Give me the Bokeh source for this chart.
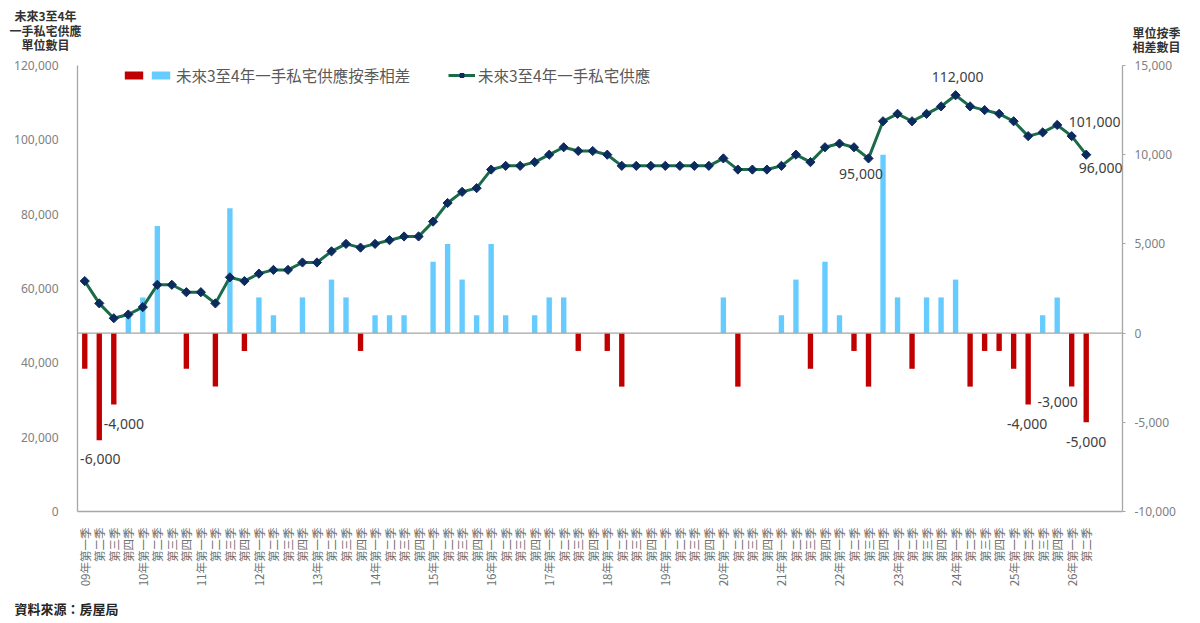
import math
from bokeh.plotting import figure
from bokeh.layouts import column
from bokeh.models import (Range1d, LinearAxis, FixedTicker, NumeralTickFormatter,
                          Span, Label, Legend, LegendItem, ColumnDataSource)
from bokeh.core.properties import value
from bokeh.embed import file_html
from bokeh.resources import INLINE

# ---------------- data ----------------
years = ["09", "10", "11", "12", "13", "14", "15", "16", "17",
         "18", "19", "20", "21", "22", "23", "24", "25", "26"]
quarter_names = ["第一季", "第二季", "第三季", "第四季"]
categories = []
for yy in years:
    for qi, qn in enumerate(quarter_names):
        categories.append(f"{yy}年{qn}" if qi == 0 else qn)
categories = categories[:70]          # 09年第一季 ... 26年第二季

supply = [62000, 56000, 52000, 53000, 55000, 61000, 61000, 59000, 59000, 56000,
          63000, 62000, 64000, 65000, 65000, 67000, 67000, 70000, 72000, 71000,
          72000, 73000, 74000, 74000, 78000, 83000, 86000, 87000, 92000, 93000,
          93000, 94000, 96000, 98000, 97000, 97000, 96000, 93000, 93000, 93000,
          93000, 93000, 93000, 93000, 95000, 92000, 92000, 92000, 93000, 96000,
          94000, 98000, 99000, 98000, 95000, 105000, 107000, 105000, 107000, 109000,
          112000, 109000, 108000, 107000, 105000, 101000, 102000, 104000, 101000, 96000]

qoq_diff = [-2000, -6000, -4000, 1000, 2000, 6000, 0, -2000, 0, -3000,
            7000, -1000, 2000, 1000, 0, 2000, 0, 3000, 2000, -1000,
            1000, 1000, 1000, 0, 4000, 5000, 3000, 1000, 5000, 1000,
            0, 1000, 2000, 2000, -1000, 0, -1000, -3000, 0, 0,
            0, 0, 0, 0, 2000, -3000, 0, 0, 1000, 3000,
            -2000, 4000, 1000, -1000, -3000, 10000, 2000, -2000, 2000, 2000,
            3000, -3000, -1000, -1000, -2000, -4000, 1000, 2000, -3000, -5000]

left_ticks = [0, 20000, 40000, 60000, 80000, 100000, 120000]
right_ticks = [-10000, -5000, 0, 5000, 10000, 15000]

legend_bar_label = "未來3至4年一手私宅供應按季相差"
legend_line_label = "未來3至4年一手私宅供應"
left_title = ["未來3至4年", "一手私宅供應", "單位數目"]
right_title = ["單位按季", "相差數目"]
source_text = "資料來源：房屋局"

# ---------------- layout constants ----------------
CJK = "Noto Sans CJK TC"
NUM = "Noto Sans"
W = 1192
TOP_H = 58                      # strip above the chart (axis titles)
BL, FW, FH = 77, 1045, 446      # main frame
MAIN_TOP, MAIN_BOT = 7, 84
BOT_H = 26                      # strip below the chart (source)
X0, X1 = -0.5, 71.5
x = list(range(len(supply)))

def strip(h):
    f = figure(width=W, height=h, x_range=Range1d(0, W), y_range=Range1d(h, 0),
               x_axis_location=None, y_axis_location=None,
               output_backend="svg", toolbar_location=None,
               min_border=0, min_border_left=0, min_border_right=0,
               min_border_top=0, min_border_bottom=0)
    f.outline_line_color = None
    f.xgrid.visible = False
    f.ygrid.visible = False
    try:
        f.frame_align = False
    except Exception:
        pass
    return f

# ---------------- top strip: axis titles ----------------
top = strip(TOP_H)
ttl_style = dict(text_font=CJK, text_font_size="12px", text_font_style="bold",
                 text_color="#333333", text_align="center", text_baseline="middle")
for k, t in enumerate(left_title):
    top.add_layout(Label(x=45, y=15 + 14.5 * k, text=t, **ttl_style))
for k, t in enumerate(right_title):
    top.add_layout(Label(x=1156, y=31.5 + 14 * k, text=t, **ttl_style))

# ---------------- main chart ----------------
p = figure(frame_width=FW, frame_height=FH,
           x_range=Range1d(X0, X1), y_range=Range1d(left_ticks[0], left_ticks[-1]),
           output_backend="svg", toolbar_location=None,
           min_border_left=BL, min_border_right=W - BL - FW,
           min_border_top=MAIN_TOP, min_border_bottom=MAIN_BOT)
p.outline_line_color = None
p.xgrid.visible = False
p.ygrid.visible = False
p.extra_y_ranges = {"diff": Range1d(right_ticks[0], right_ticks[-1])}

axis_col = "#a6a6a6"
tick_col = "#808080"

ya = p.yaxis[0]
ya.ticker = FixedTicker(ticks=left_ticks)
ya.formatter = NumeralTickFormatter(format="0,0")
ya.axis_line_color = axis_col
ya.axis_line_width = 1.3
ya.major_tick_line_color = None
ya.minor_tick_line_color = None
ya.major_label_standoff = 13
ya.major_label_text_font = NUM
ya.major_label_text_font_size = "12px"
ya.major_label_text_color = tick_col

ra = LinearAxis(y_range_name="diff", ticker=FixedTicker(ticks=right_ticks),
                formatter=NumeralTickFormatter(format="0,0"))
ra.axis_line_color = axis_col
ra.axis_line_width = 1.3
ra.major_tick_line_color = axis_col
ra.major_tick_in = 0
ra.major_tick_out = 3
ra.minor_tick_line_color = None
ra.major_label_standoff = 9
ra.major_label_text_font = NUM
ra.major_label_text_font_size = "12px"
ra.major_label_text_color = tick_col
p.add_layout(ra, "right")

xa = p.xaxis[0]
xa.ticker = FixedTicker(ticks=x)
xa.major_label_overrides = {i: categories[i] for i in x}
xa.major_label_orientation = math.pi / 2
xa.axis_line_color = axis_col
xa.axis_line_width = 1.3
xa.major_tick_line_color = None
xa.minor_tick_line_color = None
xa.major_label_standoff = 10
xa.major_label_text_font = CJK
xa.major_label_text_font_size = "11.5px"
xa.major_label_text_color = "#707070"

p.add_layout(Span(location=0, dimension="width", y_range_name="diff",
                  line_color=axis_col, line_width=1.3))

neg_src = ColumnDataSource(dict(x=[i for i in x if qoq_diff[i] < 0],
                                v=[qoq_diff[i] for i in x if qoq_diff[i] < 0]))
pos_src = ColumnDataSource(dict(x=[i for i in x if qoq_diff[i] > 0],
                                v=[qoq_diff[i] for i in x if qoq_diff[i] > 0]))
red = p.vbar(x="x", top="v", bottom=0, width=0.37, source=neg_src,
             fill_color="#C00000", line_color=None, y_range_name="diff")
blue = p.vbar(x="x", top="v", bottom=0, width=0.37, source=pos_src,
              fill_color="#66CCFF", line_color=None, y_range_name="diff")

ln = p.line(x, supply, line_color="#1B6B4A", line_width=3)
mk = p.scatter(x, supply, marker="square", angle=math.pi / 4, size=6.5,
               fill_color="#0B2A5E", line_color="#0B2A5E")

leg_common = dict(orientation="horizontal", padding=0, margin=0, spacing=0,
                  background_fill_alpha=0, border_line_color=None,
                  label_text_font=CJK, label_text_font_size="15.5px",
                  label_text_color="#595959", label_height=10, label_width=0,
                  glyph_height=10)
leg1 = Legend(items=[LegendItem(label=value(""), renderers=[red]),
                     LegendItem(label=value(legend_bar_label), renderers=[blue])],
              location=(45, 425), glyph_width=23, label_standoff=4, **leg_common)
leg2 = Legend(items=[LegendItem(label=value(legend_line_label), renderers=[ln, mk])],
              location=(371, 425), glyph_width=27, label_standoff=3, **leg_common)
p.add_layout(leg1)
p.add_layout(leg2)

lab_style = dict(text_font=NUM, text_font_size="14px", text_color="#404040",
                 text_align="center", text_baseline="middle")
bar_labels = [(1, 1, -18.5), (2, 10, -20), (65, -1, -19.6), (68, -14, -15.8), (69, 0, -20)]
for idx, dx, dy in bar_labels:
    p.add_layout(Label(x=idx, y=qoq_diff[idx], y_range_name="diff", text=f"{qoq_diff[idx]:,}",
                       x_offset=dx, y_offset=dy, **lab_style))
line_labels = [(54, -7.5, -15.4), (60, 2, 18), (68, 23, 14), (69, 14.5, -13.5)]
for idx, dx, dy in line_labels:
    p.add_layout(Label(x=idx, y=supply[idx], text=f"{supply[idx]:,}",
                       x_offset=dx, y_offset=dy, **lab_style))

# ---------------- bottom strip: source ----------------
bot = strip(BOT_H)
bot.add_layout(Label(x=14, y=13, text=source_text, text_font=CJK, text_font_size="13px",
                     text_font_style="bold", text_color="#262626",
                     text_align="left", text_baseline="middle"))

layout = column(top, p, bot, spacing=0)
open("out.html", "w").write(file_html(layout, INLINE))
